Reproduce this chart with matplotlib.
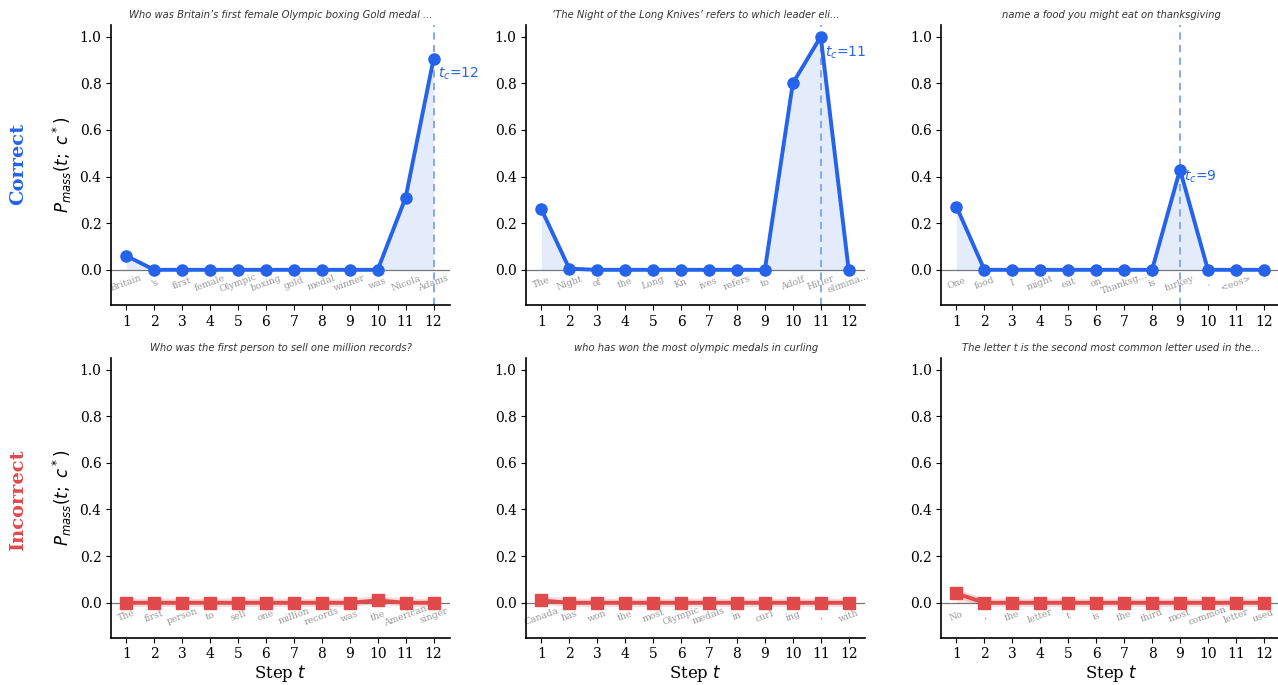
import numpy as np
import matplotlib
matplotlib.use("Agg")
import matplotlib.pyplot as plt

# ======================
# DATA
# ======================
steps = np.arange(1, 13)

titles_correct = [
    "Who was Britain’s first female Olympic boxing Gold medal ...",
    "‘The Night of the Long Knives’ refers to which leader eli...",
    "name a food you might eat on thanksgiving",
]
titles_incorrect = [
    "Who was the first person to sell one million records?",
    "who has won the most olympic medals in curling",
    "The letter t is the second most common letter used in the...",
]

tokens_correct = [
    ["Britain", "'s", "first", "female", "Olympic", "boxing", "gold", "medal", "winner", "was", "Nicola", "Adams"],
    ["The", "Night", "of", "the", "Long", "Kn", "ives", "refers", "to", "Adolf", "Hitler", "elimina..."],
    ["One", "food", "I", "might", "eat", "on", "Thanksg...", "is", "turkey", ".", "<eos>", ""],
]
tokens_incorrect = [
    ["The", "first", "person", "to", "sell", "one", "million", "records", "was", "the", "American", "singer"],
    ["Canada", "has", "won", "the", "most", "Olympic", "medals", "in", "curl", "ing", ",", "with"],
    ["No", ",", "the", "letter", "t", "is", "the", "third", "most", "common", "letter", "used"],
]

pmass_correct = [
    [0.06, 0, 0, 0, 0, 0, 0, 0, 0, 0, 0.31, 0.905],
    [0.26, 0.005, 0, 0, 0, 0, 0, 0, 0, 0.80, 1.0, 0.0],
    [0.27, 0, 0, 0, 0, 0, 0, 0, 0.43, 0, 0, 0],
]
pmass_incorrect = [
    [0, 0, 0, 0, 0, 0, 0, 0, 0, 0.01, 0, 0],
    [0.01, 0, 0, 0, 0, 0, 0, 0, 0, 0, 0, 0],
    [0.04, 0, 0, 0, 0, 0, 0, 0, 0, 0, 0, 0],
]
t_commit = [12, 11, 9]

# ======================
# STYLE
# ======================
blue = "#2563eb"
red = "#e04a4a"
plt.rcParams["font.family"] = ["DejaVu Serif"]
plt.rcParams["mathtext.fontset"] = "dejavusans"

fig, axes = plt.subplots(2, 3, figsize=(12.78, 6.85), dpi=100)
fig.subplots_adjust(left=0.087, right=1.002, top=0.9635, bottom=0.069,
                    wspace=0.224, hspace=0.19)

rows = [
    (titles_correct, tokens_correct, pmass_correct, blue, "o"),
    (titles_incorrect, tokens_incorrect, pmass_incorrect, red, "s"),
]

for r, (titles, tokens, pmass, color, marker) in enumerate(rows):
    for c in range(3):
        ax = axes[r, c]
        y = np.array(pmass[c])
        ax.axhline(0, color="#777777", lw=0.9, zorder=1)
        ax.fill_between(steps, 0, y, color=color, alpha=0.12, lw=0, zorder=1)
        if r == 1:
            # soft halo under the flat red line
            ax.plot(steps, y, color=color, lw=6, alpha=0.2, zorder=2)
        ax.plot(steps, y, color=color, lw=2.8, marker=marker, markersize=8,
                zorder=3)

        if r == 0:
            tc = t_commit[c]
            ax.axvline(tc, color="#7aa3f2", lw=1.3, ls=(0, (4, 3)), zorder=2)
            ax.text(tc + 0.15, y[tc - 1] * 0.93, f"$t_c$={tc}", color=blue,
                    fontsize=10, va="center", ha="left",
                    family="DejaVu Sans", zorder=4)

        for s, tok in zip(steps, tokens[c]):
            ax.text(s, -0.057, tok, rotation=20, ha="center", va="center",
                    fontsize=6.7, color="#999999", zorder=2)

        ax.set_title(titles[c], fontsize=7.2, style="italic", color="#333333",
                     family="DejaVu Sans", pad=5)
        ax.set_xlim(0.46, 12.6)
        ax.set_ylim(-0.15, 1.05)
        ax.set_xticks(steps)
        ax.set_yticks(np.arange(0, 1.01, 0.2))
        ax.tick_params(labelsize=10)
        ax.spines["top"].set_visible(False)
        ax.spines["right"].set_visible(False)
        ax.spines["left"].set_linewidth(1.2)
        ax.spines["bottom"].set_linewidth(1.2)

        if c == 0:
            ax.set_ylabel(r"$P_{mass}(t;\ c^*)$", fontsize=12)
        if r == 1:
            ax.set_xlabel("Step $t$", fontsize=12, labelpad=1)

fig.text(0.014, 0.76, "Correct", rotation=90, color=blue, fontsize=14,
         fontweight="bold", ha="center", va="center")
fig.text(0.014, 0.27, "Incorrect", rotation=90, color=red, fontsize=14,
         fontweight="bold", ha="center", va="center")

plt.savefig("out.png", dpi=100)
